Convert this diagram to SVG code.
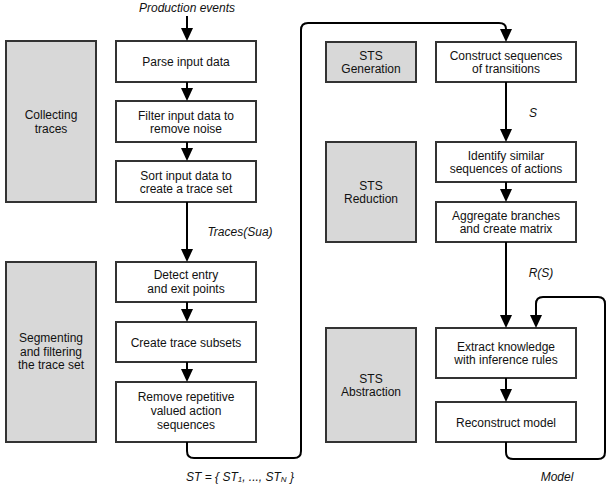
<svg xmlns="http://www.w3.org/2000/svg" width="612" height="484" viewBox="0 0 612 484">
<defs>
<style>
.box{fill:#fff;stroke:#333;stroke-width:2}
.phase{fill:#d8d8d8;stroke:#333;stroke-width:2}
.t{font-family:"Liberation Sans",Arial,sans-serif;font-size:12px;fill:#111;text-anchor:middle}
.lbl{font-family:"Liberation Sans",Arial,sans-serif;font-size:12px;font-style:italic;fill:#111;text-anchor:middle}
.sub{font-size:8px}
.c{fill:none;stroke:#000;stroke-width:2}
</style>
<marker id="ah" markerUnits="userSpaceOnUse" markerWidth="14" markerHeight="14" refX="0" refY="6" orient="auto" viewBox="0 0 14 12">
<path d="M0,0 L13,6 L0,12 z" fill="#000"/>
</marker>
</defs>

<g id="phase-collecting"><rect class="phase" x="6" y="41" width="90" height="161"/><text class="t" x="51" y="119">Collecting</text><text class="t" x="51" y="133">traces</text></g>
<g id="phase-segmenting"><rect class="phase" x="6" y="262" width="90" height="180"/><text class="t" x="51" y="342">Segmenting</text><text class="t" x="51" y="355.5">and filtering</text><text class="t" x="51" y="369">the trace set</text></g>
<g id="phase-generation"><rect class="phase" x="326" y="42" width="90" height="40"/><text class="t" x="371" y="60">STS</text><text class="t" x="371" y="73">Generation</text></g>
<g id="phase-reduction"><rect class="phase" x="326" y="142" width="90" height="100"/><text class="t" x="371" y="190">STS</text><text class="t" x="371" y="203">Reduction</text></g>
<g id="phase-abstraction"><rect class="phase" x="326" y="328" width="90" height="114"/><text class="t" x="371" y="383">STS</text><text class="t" x="371" y="396">Abstraction</text></g>

<g id="parse"><rect class="box" x="116" y="41" width="140" height="41"/><text class="t" x="186" y="66">Parse input data</text></g>
<g id="filter"><rect class="box" x="116" y="101" width="140" height="41"/><text class="t" x="186" y="119.5">Filter input data to</text><text class="t" x="186" y="133">remove noise</text></g>
<g id="sort"><rect class="box" x="116" y="161" width="140" height="41"/><text class="t" x="186" y="179.5">Sort input data to</text><text class="t" x="186" y="193">create a trace set</text></g>
<g id="detect"><rect class="box" x="116" y="262" width="140" height="40"/><text class="t" x="186" y="279">Detect entry</text><text class="t" x="186" y="292.5">and exit points</text></g>
<g id="subsets"><rect class="box" x="116" y="322" width="140" height="40"/><text class="t" x="186" y="346.5">Create trace subsets</text></g>
<g id="remove"><rect class="box" x="116" y="382" width="140" height="60"/><text class="t" x="186" y="401">Remove repetitive</text><text class="t" x="186" y="415">valued action</text><text class="t" x="186" y="429">sequences</text></g>
<g id="construct"><rect class="box" x="436" y="42" width="140" height="40"/><text class="t" x="506" y="60">Construct sequences</text><text class="t" x="506" y="73">of transitions</text></g>
<g id="identify"><rect class="box" x="436" y="142" width="140" height="40"/><text class="t" x="506" y="160">Identify similar</text><text class="t" x="506" y="173">sequences of actions</text></g>
<g id="aggregate"><rect class="box" x="436" y="202" width="140" height="40"/><text class="t" x="506" y="220">Aggregate branches</text><text class="t" x="506" y="233">and create matrix</text></g>
<g id="extract"><rect class="box" x="436" y="328" width="140" height="50"/><text class="t" x="506" y="351">Extract knowledge</text><text class="t" x="506" y="364">with inference rules</text></g>
<g id="reconstruct"><rect class="box" x="436" y="402" width="140" height="40"/><text class="t" x="506" y="426.5">Reconstruct model</text></g>

<g id="connectors">
<path class="c" d="M187,16 V28" marker-end="url(#ah)"/>
<path class="c" d="M187,82 V88" marker-end="url(#ah)"/>
<path class="c" d="M187,142 V148" marker-end="url(#ah)"/>
<path class="c" d="M187,202 V249" marker-end="url(#ah)"/>
<path class="c" d="M187,302 V309" marker-end="url(#ah)"/>
<path class="c" d="M187,362 V369" marker-end="url(#ah)"/>
<path class="c" d="M187,442 V451 Q187,458 194,458 H294 Q301,458 301,451 V30 Q301,23 308,23 H499 Q506,23 506,29" marker-end="url(#ah)"/>
<path class="c" d="M506,82 V129" marker-end="url(#ah)"/>
<path class="c" d="M506,182 V189" marker-end="url(#ah)"/>
<path class="c" d="M506,242 V315" marker-end="url(#ah)"/>
<path class="c" d="M506,378 V389" marker-end="url(#ah)"/>
<path class="c" d="M506,442 V452 Q506,459 513,459 H598 Q605,459 605,452 V304 Q605,297 598,297 H543 Q536,297 536,304 V315" marker-end="url(#ah)"/>
</g>

<g id="labels">
<text class="lbl" x="187" y="12">Production events</text>
<text class="lbl" x="240" y="236">Traces(Sua)</text>
<text class="lbl" x="533" y="117">S</text>
<text class="lbl" x="541" y="277">R(S)</text>
<text class="lbl" x="557" y="481">Model</text>
<text class="lbl" x="240" y="481">ST = { ST<tspan class="sub" dy="1">1</tspan><tspan dy="-1">, ..., ST</tspan><tspan class="sub" dy="1">N</tspan><tspan dy="-1"> }</tspan></text>
</g>
</svg>
